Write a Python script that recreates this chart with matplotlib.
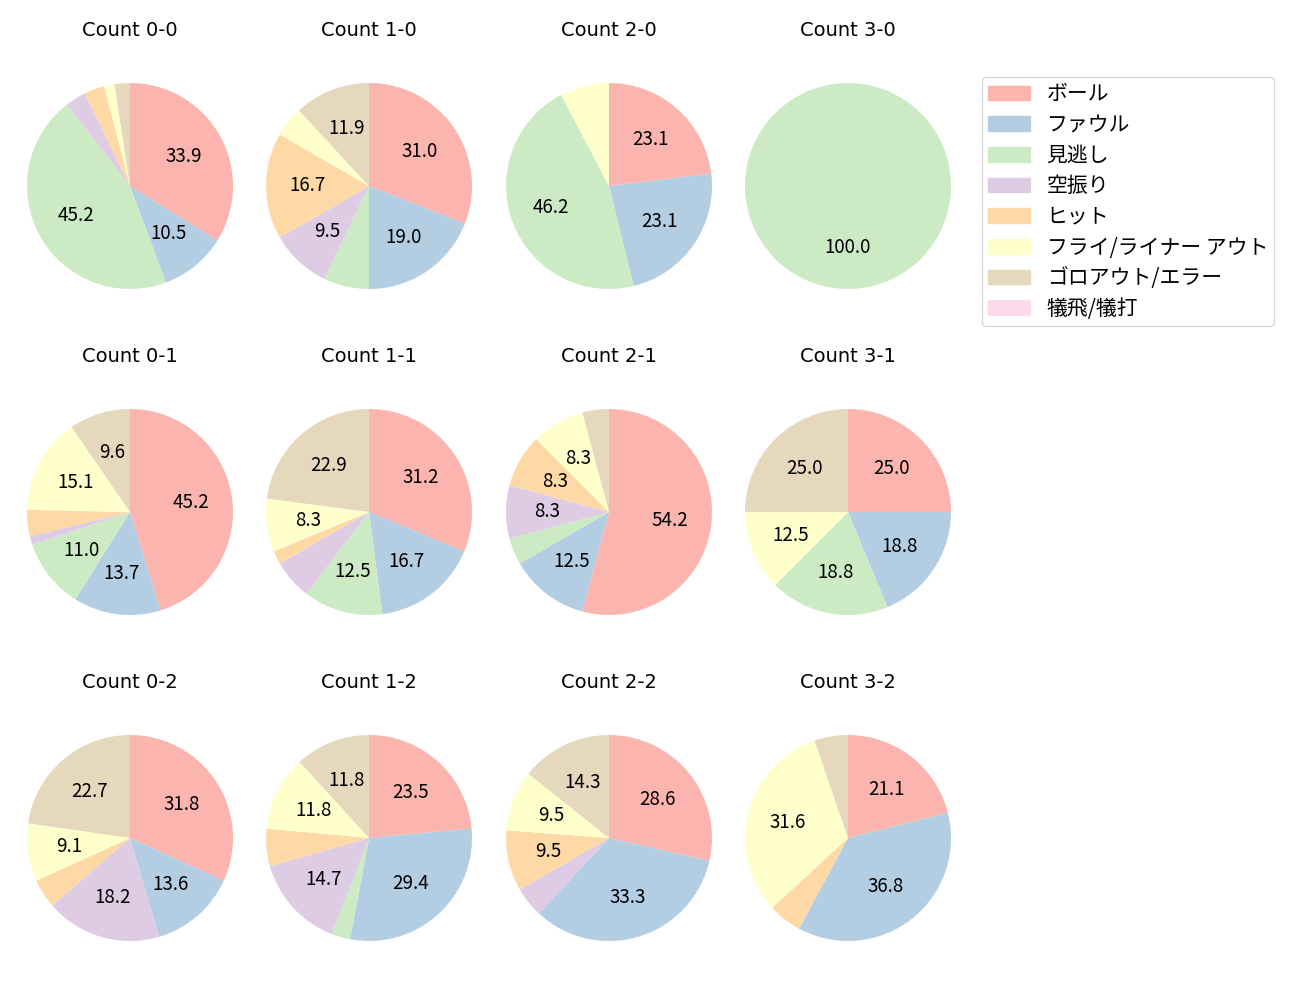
import matplotlib
matplotlib.use('Agg')
import matplotlib.pyplot as plt
import numpy as np

plt.rcParams['font.family'] = ['Noto Sans CJK JP', 'DejaVu Sans']

results = ['ボール', 'ファウル', '見逃し', '空振り', 'ヒット',
           'フライ/ライナー アウト', 'ゴロアウト/エラー', '犠飛/犠打']

# counts per result, keyed by (balls, strikes)
counts = {
    '0-0': [42, 13, 56, 4, 4, 2, 3, 0],
    '1-0': [13, 8, 3, 4, 7, 2, 5, 0],
    '2-0': [3, 3, 6, 0, 0, 1, 0, 0],
    '3-0': [0, 0, 1, 0, 0, 0, 0, 0],
    '0-1': [33, 10, 8, 1, 3, 11, 7, 0],
    '1-1': [15, 8, 6, 3, 1, 4, 11, 0],
    '2-1': [13, 3, 1, 2, 2, 2, 1, 0],
    '3-1': [4, 3, 3, 0, 0, 2, 4, 0],
    '0-2': [7, 3, 0, 4, 1, 2, 5, 0],
    '1-2': [8, 10, 1, 5, 2, 4, 4, 0],
    '2-2': [6, 7, 0, 1, 2, 2, 3, 0],
    '3-2': [4, 7, 0, 0, 1, 6, 1, 0],
}

colors = plt.cm.Pastel1(np.arange(len(results)))

fig = plt.figure(figsize=(13, 10), dpi=100)

col_x = [130, 369, 609, 848]
row_y = [186, 512, 838]
r = 103
side = 2.5 * r

for key, vals in counts.items():
    b, s = [int(v) for v in key.split('-')]
    cx, cy = col_x[b], row_y[s]
    ax = fig.add_axes([(cx - side / 2) / 1300, 1 - (cy + side / 2) / 1000,
                       side / 1300, side / 1000])
    vals = np.array(vals, dtype=float)
    ax.pie(vals, colors=colors, startangle=90, counterclock=False,
           autopct=lambda p: f'{p:.1f}' if p >= 8 else '',
           pctdistance=0.6, textprops={'fontsize': 13.5})
    ax.set_title(f'Count {key}', fontsize=14, pad=15,
                 family=['DejaVu Sans', 'Noto Sans CJK JP'])

handles = [plt.Rectangle((0, 0), 1, 1, color=c) for c in colors]
fig.legend(handles, results, loc='upper left', borderaxespad=0,
           bbox_to_anchor=(982 / 1300, 1 - 77 / 1000), fontsize=15,
           labelspacing=0.416, borderpad=0.3)

fig.savefig('out.png', dpi=100)
